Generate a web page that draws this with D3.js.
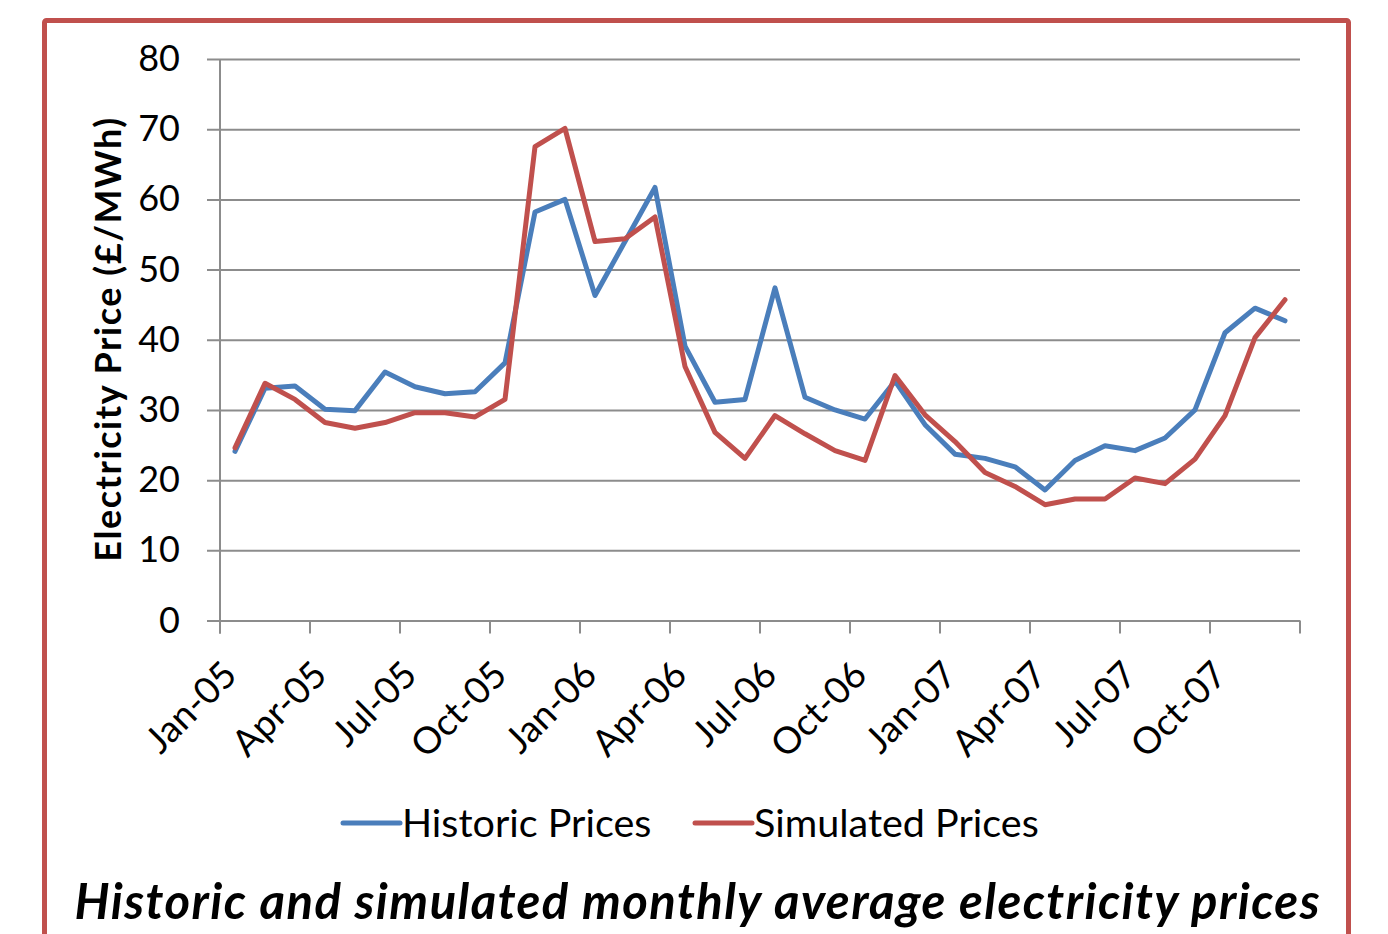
<!DOCTYPE html>
<html>
<head>
<meta charset="utf-8">
<script src="https://cdn.jsdelivr.net/npm/d3@7"></script>
<style>
    body { margin: 0; background: #ffffff; }
    svg { display: block; font-family: 'Lato', sans-serif; }
</style>
</head>
<body>
<div id="chart"></div>
<script>
// Monthly categories, Jan-05 .. Dec-07
const months = [
    "Jan-05", "Feb-05", "Mar-05", "Apr-05", "May-05", "Jun-05", "Jul-05", "Aug-05", "Sep-05", "Oct-05", "Nov-05", "Dec-05",
    "Jan-06", "Feb-06", "Mar-06", "Apr-06", "May-06", "Jun-06", "Jul-06", "Aug-06", "Sep-06", "Oct-06", "Nov-06", "Dec-06",
    "Jan-07", "Feb-07", "Mar-07", "Apr-07", "May-07", "Jun-07", "Jul-07", "Aug-07", "Sep-07", "Oct-07", "Nov-07", "Dec-07"
];

// Historic monthly average prices (£/MWh)
const historic = [
    24.1, 33.1, 33.4, 30.1, 29.9, 35.4, 33.3, 32.3, 32.6, 36.7, 58.2, 60.0,
    46.3, 54.0, 61.7, 39.1, 31.1, 31.5, 47.4, 31.8, 30.0, 28.7, 34.1, 27.9,
    23.7, 23.1, 21.9, 18.6, 22.8, 24.9, 24.2, 26.0, 30.0, 41.0, 44.5, 42.7
];

// Simulated monthly average prices (£/MWh)
const simulated = [
    24.6, 33.8, 31.5, 28.2, 27.4, 28.2, 29.6, 29.6, 29.0, 31.5, 67.5, 70.1,
    54.0, 54.4, 57.5, 36.2, 26.8, 23.1, 29.2, 26.6, 24.2, 22.8, 34.9, 29.3,
    25.5, 21.1, 19.1, 16.5, 17.3, 17.3, 20.3, 19.5, 23.0, 29.2, 40.3, 45.7
];

const seriesNames = ["Historic Prices", "Simulated Prices"];
const seriesColors = ["#4A7EBB", "#C0504D"];
const yTicks = [0, 10, 20, 30, 40, 50, 60, 70, 80];

const W = 1388, H = 934;
const plot = { left: 220, right: 1300, top: 59, bottom: 620.5 };

const svg = d3.select("#chart").append("svg")
    .attr("width", W)
    .attr("height", H);

svg.append("rect").attr("width", W).attr("height", H).attr("fill", "#ffffff");

// Red frame round the figure
svg.append("rect")
    .attr("x", 44.5)
    .attr("y", 20.5)
    .attr("width", 1304)
    .attr("height", 960)
    .attr("rx", 2)
    .attr("fill", "none")
    .attr("stroke", "#C0504D")
    .attr("stroke-width", 5);

// Scales
const x = d3.scaleBand()
    .domain(months)
    .range([plot.left, plot.right])
    .padding(0);

const y = d3.scaleLinear()
    .domain([0, 80])
    .range([plot.bottom, plot.top]);

// Y axis with gridlines
const yAxis = svg.append("g")
    .attr("transform", `translate(${plot.left - 13},0)`)
    .call(d3.axisLeft(y)
        .tickValues(yTicks)
        .tickSize(-(plot.right - plot.left + 13))
        .tickPadding(27));

yAxis.select(".domain").remove();
yAxis.selectAll(".tick line")
    .attr("stroke", "#8c8c8c")
    .attr("stroke-width", 2);
yAxis.selectAll(".tick text")
    .attr("fill", "#000")
    .style("font-size", "36px")
    .style("font-family", "'Lato', sans-serif");

// Vertical axis line
svg.append("line")
    .attr("x1", plot.left).attr("x2", plot.left)
    .attr("y1", plot.top).attr("y2", plot.bottom + 13)
    .attr("stroke", "#8c8c8c")
    .attr("stroke-width", 2);

// X tick marks every three months (plus the end)
const tickMonths = months.filter((m, i) => i % 3 === 0);
const tickXs = tickMonths.map(m => x(m)).concat([plot.right]);

svg.append("g").selectAll("line")
    .data(tickXs)
    .join("line")
    .attr("x1", d => d).attr("x2", d => d)
    .attr("y1", plot.bottom).attr("y2", plot.bottom + 13)
    .attr("stroke", "#8c8c8c")
    .attr("stroke-width", 2);

// X tick labels, rotated
svg.append("g").selectAll("text")
    .data(tickMonths)
    .join("text")
    .attr("transform", d => `translate(${x(d) + x.bandwidth() / 2 + 4},677) rotate(-45)`)
    .attr("text-anchor", "end")
    .style("font-size", "37px")
    .attr("fill", "#000")
    .text(d => d);

// Lines
const line = d3.line()
    .x((d, i) => x(months[i]) + x.bandwidth() / 2)
    .y(d => y(d));

[historic, simulated].forEach((vals, k) => {
    svg.append("path")
        .datum(vals)
        .attr("fill", "none")
        .attr("stroke", seriesColors[k])
        .attr("stroke-width", 5)
        .attr("stroke-linejoin", "round")
        .attr("stroke-linecap", "round")
        .attr("d", line);
});

// Y axis title
svg.append("text")
    .attr("transform", `translate(121,${(plot.top + plot.bottom) / 2}) rotate(-90)`)
    .attr("text-anchor", "middle")
    .attr("textLength", 444)
    .attr("lengthAdjust", "spacing")
    .style("font-size", "36px")
    .style("font-weight", "bold")
    .attr("fill", "#000")
    .text("Electricity Price (£/MWh)");

// Legend
const legendX = [343, 695];
const legend = svg.append("g").selectAll("g")
    .data(seriesNames)
    .join("g")
    .attr("transform", (d, i) => `translate(${legendX[i]},823)`);

legend.append("line")
    .attr("x1", 0).attr("x2", 57)
    .attr("y1", 0).attr("y2", 0)
    .attr("stroke", (d, i) => seriesColors[i])
    .attr("stroke-width", 5)
    .attr("stroke-linecap", "round");

legend.append("text")
    .attr("x", 59)
    .attr("y", 14)
    .style("font-size", "39.5px")
    .attr("fill", "#000")
    .text(d => d);

// Caption
svg.append("text")
    .attr("x", 697)
    .attr("y", 919)
    .attr("text-anchor", "middle")
    .attr("textLength", 1245)
    .attr("lengthAdjust", "spacing")
    .style("font-size", "49px")
    .style("font-weight", "bold")
    .style("font-style", "italic")
    .attr("fill", "#000")
    .text("Historic and simulated monthly average electricity prices");
</script>
</body>
</html>
